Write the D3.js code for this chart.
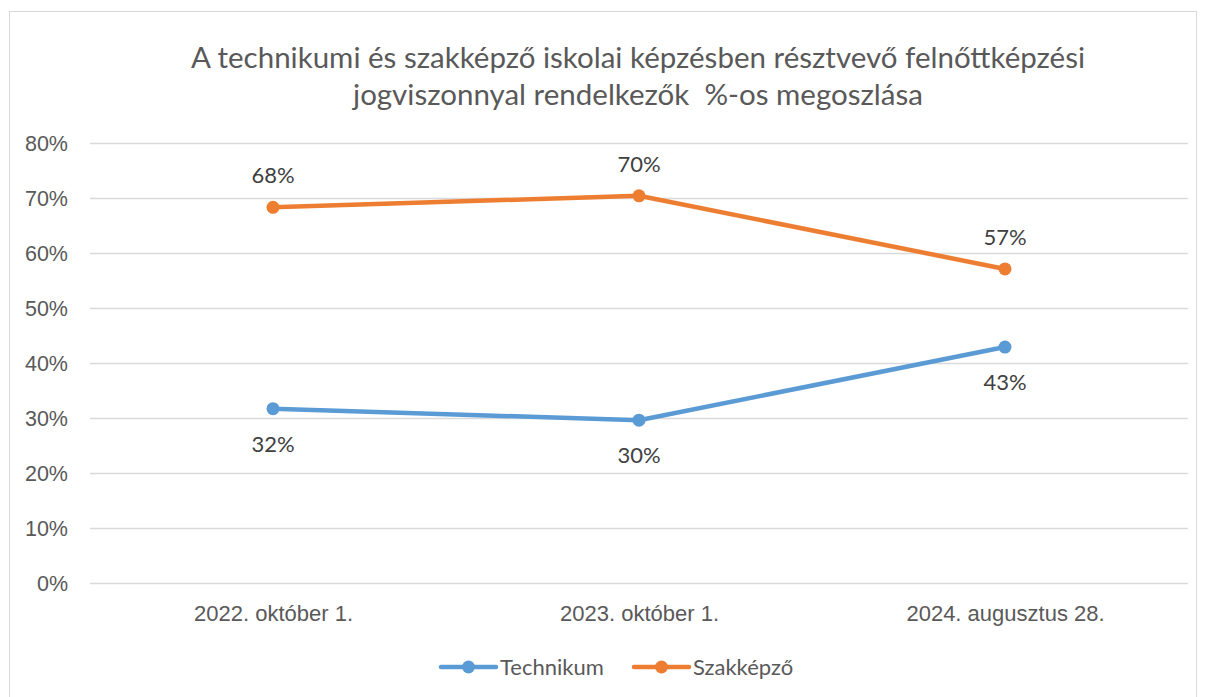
<!DOCTYPE html>
<html>
<head>
<meta charset="utf-8">
<script src="https://cdn.jsdelivr.net/npm/d3@7"></script>
<style>
  body { margin: 0; background: #fff; }
  svg { display: block; font-family: Lato, "Open Sans", sans-serif; }
</style>
</head>
<body>
<div id="chart"></div>
<script>
// Chart data
const categories = ['2022. október 1.', '2023. október 1.', '2024. augusztus 28.'];
const technikum = [0.317, 0.296, 0.429];
const szakkepzo = [0.683, 0.704, 0.571];
const yTicks = [0, 0.1, 0.2, 0.3, 0.4, 0.5, 0.6, 0.7, 0.8];
const titleLines = [
  'A technikumi és szakképző iskolai képzésben résztvevő felnőttképzési',
  'jogviszonnyal rendelkezők  %-os megoszlása'
];

const width = 1205;
const height = 697;
const margin = { top: 143, right: 17, bottom: 114, left: 90 };

const series = [
  { name: 'Technikum', values: technikum, color: '#5B9BD5', labelPos: 'below' },
  { name: 'Szakképző', values: szakkepzo, color: '#ED7D31', labelPos: 'above' }
];

const svg = d3.select('#chart')
  .append('svg')
  .attr('width', width)
  .attr('height', height);

// Chart frame
svg.append('rect')
  .attr('x', 9.5)
  .attr('y', 11.5)
  .attr('width', 1187)
  .attr('height', 700)
  .attr('fill', '#fff')
  .attr('stroke', '#d9d9d9');

const x = d3.scalePoint()
  .domain(categories)
  .range([margin.left, width - margin.right])
  .padding(0.5);

const y = d3.scaleLinear()
  .domain([0, 0.8])
  .range([height - margin.bottom, margin.top]);

// Title
svg.append('text')
  .attr('text-anchor', 'middle')
  .attr('fill', '#595959')
  .style('font-size', '29.5px')
  .selectAll('tspan')
  .data(titleLines)
  .join('tspan')
  .attr('x', 638)
  .attr('y', (d, i) => 68 + i * 37)
  .style('white-space', 'pre')
  .text((d) => d);

// Gridlines + y labels
const yAxis = d3.axisLeft(y)
  .tickValues(yTicks)
  .tickFormat(d3.format('.0%'))
  .tickSize(-(width - margin.left - margin.right))
  .tickPadding(22);

svg.append('g')
  .attr('transform', `translate(${margin.left},0)`)
  .call(yAxis)
  .call((g) => g.select('.domain').remove())
  .call((g) => g.selectAll('.tick line').attr('stroke', '#d9d9d9').attr('stroke-width', 1.3))
  .call((g) => g.selectAll('.tick text')
    .attr('fill', '#595959')
    .style('font-size', '21.5px')
    .attr('dy', '0.35em'));

// x labels
const xAxis = d3.axisBottom(x).tickSize(0).tickPadding(22);
svg.append('g')
  .attr('transform', `translate(0,${height - margin.bottom})`)
  .call(xAxis)
  .call((g) => g.select('.domain').remove())
  .call((g) => g.selectAll('.tick text')
    .attr('fill', '#595959')
    .style('font-size', '22px'));

// Lines, markers, labels
const line = d3.line()
  .x((d, i) => x(categories[i]))
  .y((d) => y(d));

const fmt = d3.format('.0%');

series.forEach((s) => {
  svg.append('path')
    .datum(s.values)
    .attr('d', line)
    .attr('fill', 'none')
    .attr('stroke', s.color)
    .attr('stroke-width', 4.5)
    .attr('stroke-linecap', 'round')
    .attr('stroke-linejoin', 'round');

  svg.append('g')
    .selectAll('circle')
    .data(s.values)
    .join('circle')
    .attr('cx', (d, i) => x(categories[i]))
    .attr('cy', (d) => y(d))
    .attr('r', 6.5)
    .attr('fill', s.color);

  svg.append('g')
    .selectAll('text')
    .data(s.values)
    .join('text')
    .attr('x', (d, i) => x(categories[i]))
    .attr('y', (d) => y(d) + (s.labelPos === 'above' ? -24 : 43))
    .attr('text-anchor', 'middle')
    .attr('fill', '#404040')
    .style('font-size', '22px')
    .text((d) => fmt(d));
});

// Legend
const legendItems = [
  { name: 'Technikum', color: '#5B9BD5', x: 441 },
  { name: 'Szakképző', color: '#ED7D31', x: 634 }
];
const legendY = 667;
const legend = svg.append('g');
legendItems.forEach((item) => {
  const g = legend.append('g').attr('transform', `translate(${item.x},${legendY})`);
  g.append('line')
    .attr('x1', 0).attr('x2', 55)
    .attr('stroke', item.color)
    .attr('stroke-width', 4.5)
    .attr('stroke-linecap', 'round');
  g.append('circle').attr('cx', 27.5).attr('r', 6.5).attr('fill', item.color);
  g.append('text')
    .attr('x', 59)
    .attr('dy', '0.35em')
    .attr('fill', '#595959')
    .style('font-size', '22px')
    .text(item.name);
});
</script>
</body>
</html>
